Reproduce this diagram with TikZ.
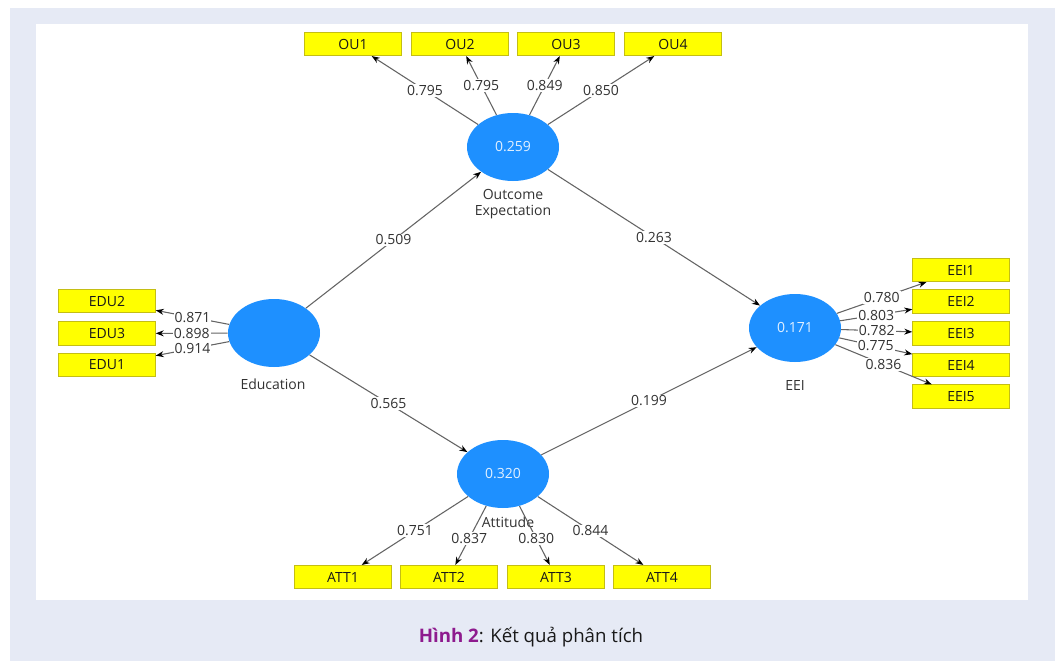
\documentclass[tikz,border=0pt]{standalone}
\usepackage{fontspec}
\setmainfont{Open Sans}
\usetikzlibrary{shapes.geometric,arrows.meta}
\definecolor{bgl}{RGB}{230,234,245}
\definecolor{lvc}{RGB}{30,144,255}
\definecolor{ybox}{RGB}{255,255,0}
\definecolor{ybord}{RGB}{196,190,20}
\definecolor{lnc}{RGB}{100,100,100}
\definecolor{txc}{RGB}{50,50,50}
\definecolor{capp}{RGB}{142,26,142}
\definecolor{lvtext}{RGB}{225,240,255}
\tikzset{
  lv/.style={ellipse, fill=lvc, minimum width=69pt, minimum height=51pt, inner sep=0pt,
    text=lvtext, font=\fontsize{10.5}{12}\selectfont},
  ind/.style={rectangle, fill=ybox, draw=ybord, line width=0.6pt, minimum width=72.5pt,
    minimum height=17.5pt, inner sep=0pt, text=black!90, font=\fontsize{10.5}{12}\selectfont},
  nm/.style={text=txc, font=\fontsize{10.5}{12}\selectfont, align=center},
  ar/.style={draw=lnc, line width=0.8pt, -{Stealth[length=6pt,width=4.5pt,color=black]}},
  lb/.style={fill=white, inner sep=0.8pt, text=txc, font=\fontsize{10.5}{12}\selectfont}
}
\begin{document}
\begin{tikzpicture}[x=0.75pt,y=-0.75pt]
\useasboundingbox (0,0) rectangle (1058,661);
\fill[white] (0,0) rectangle (1058,661);
\fill[bgl] (10,8) rectangle (1055,661);
\fill[white] (36,24) rectangle (1028,600);

% latent variables
\node[lv] (OE) at (513,147) {0.259};
\node[lv] (ED) at (274,333) {};
\node[lv] (EE) at (795,328) {0.171};
\node[lv] (AT) at (503,474) {0.320};

\node[nm] (OEn) at (513,204) {Outcome\\Expectation};
\node[nm] (EDn) at (273,384) {Education};
\node[nm] (EEn) at (795,385) {EEI};

% indicators
\node[ind] (OU1) at (353,44) {OU1};
\node[ind] (OU2) at (460,44) {OU2};
\node[ind] (OU3) at (566,44) {OU3};
\node[ind] (OU4) at (673,44) {OU4};

\node[ind] (ATT1) at (343,577) {ATT1};
\node[ind] (ATT2) at (449,577) {ATT2};
\node[ind] (ATT3) at (556,577) {ATT3};
\node[ind] (ATT4) at (662,577) {ATT4};

\node[ind] (EDU2) at (107,301) {EDU2};
\node[ind] (EDU3) at (107,333.5) {EDU3};
\node[ind] (EDU1) at (107,365) {EDU1};

\node[ind] (EEI1) at (961,270) {EEI1};
\node[ind] (EEI2) at (961,301.5) {EEI2};
\node[ind] (EEI3) at (961,333.5) {EEI3};
\node[ind] (EEI4) at (961,365) {EEI4};
\node[ind] (EEI5) at (961,396.5) {EEI5};

% structural paths
\draw[ar] (ED) -- node[lb]{0.509} (OE);
\draw[ar] (OE) -- node[lb]{0.263} (EE);
\draw[ar] (ED) -- node[lb]{0.565} (AT);
\draw[ar] (AT) -- node[lb]{0.199} (EE);

% loadings
\draw[ar] (OE) -- node[lb]{0.795} (OU1);
\draw[ar] (OE) -- node[lb]{0.795} (OU2);
\draw[ar] (OE) -- node[lb]{0.849} (OU3);
\draw[ar] (OE) -- node[lb]{0.850} (OU4);

\node[nm] (ATn) at (508,522) {Attitude};

\draw[ar] (AT) -- node[lb]{0.751} (ATT1);
\draw[ar] (AT) -- node[lb, pos=0.55]{0.837} (ATT2);
\draw[ar] (AT) -- node[lb, pos=0.55]{0.830} (ATT3);
\draw[ar] (AT) -- node[lb]{0.844} (ATT4);

\draw[ar] (ED) -- node[lb]{0.871} (EDU2);
\draw[ar] (ED) -- node[lb]{0.898} (EDU3);
\draw[ar] (ED) -- node[lb]{0.914} (EDU1);

\draw[ar] (EE) -- node[lb]{0.780} (EEI1);
\draw[ar] (EE) -- node[lb]{0.803} (EEI2);
\draw[ar] (EE) -- node[lb]{0.782} (EEI3);
\draw[ar] (EE) -- node[lb]{0.775} (EEI4);
\draw[ar] (EE) -- node[lb]{0.836} (EEI5);

% caption
\node[font=\fontsize{14}{16}\selectfont, text=black!90] (cap) at (531,637)
  {\textcolor{capp}{\textbf{Hình 2}}: Kết quả phân tích};
\end{tikzpicture}
\end{document}
